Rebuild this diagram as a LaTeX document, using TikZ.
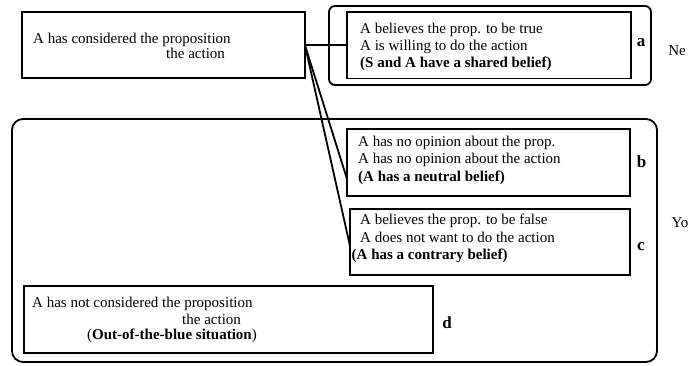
\documentclass[tikz,border=0pt]{standalone}
\usepackage{fontspec}
\setmainfont{Liberation Serif}
\begin{document}
\begin{tikzpicture}[x=1pt,y=-1pt,
  box/.style={draw, line width=1.8pt, rectangle, inner sep=0pt, outer sep=0pt},
  group/.style={draw, line width=1.8pt, rectangle, inner sep=0pt, outer sep=0pt},
  txt/.style={anchor=base west, inner sep=0pt, font=\fontsize{15}{17}\selectfont},
  lab/.style={anchor=base, inner sep=0pt, font=\fontsize{17}{20}\selectfont\bfseries},
  side/.style={anchor=base, inner sep=0pt, font=\fontsize{15}{17}\selectfont},
  conn/.style={line width=1.8pt}]
\useasboundingbox (0,0) rectangle (694,366);
% group frames
\node[group, rounded corners=6pt, minimum width=322pt, minimum height=79pt] (outera) at (490,45.5) {};
\node[group, rounded corners=11pt, minimum width=645pt, minimum height=243pt] (big) at (334.5,240.5) {};
% boxes
\node[box, minimum width=283pt, minimum height=66pt] (left) at (163.5,45.3) {};
\node[box, minimum width=284pt, minimum height=66.5pt] (ba) at (489,45.3) {};
\node[box, minimum width=283pt, minimum height=67pt] (bb) at (488.5,162.5) {};
\node[box, minimum width=280pt, minimum height=66pt] (bc) at (490,242) {};
\node[box, minimum width=409pt, minimum height=67pt] (bd) at (228.5,319.5) {};
% connectors
\coordinate (bEnd) at ([yshift=-16.5pt]bb.west);
\coordinate (cEnd) at ([yshift=-4pt]bc.west);
\draw[conn] (left.east) -- (ba.west);
\draw[conn] (left.east) -- (bEnd);
\draw[conn] (left.east) -- (cEnd);
% texts
\node[txt] (l1) at (33,43.3) {A has considered the proposition};
\node[txt] (l2) at (166,58.8) {the action};
\node[txt] (a1) at (360,34) {A believes the prop. to be true};
\node[txt] (a2) at (360,51) {A is willing to do the action};
\node[txt] (a3) at (360,67.5) {\bfseries (S and A have a shared belief)};
\node[txt] (b1) at (358,146.7) {A has no opinion about the prop.};
\node[txt] (b2) at (358,164) {A has no opinion about the action};
\node[txt] (b3) at (358,181.5) {\bfseries (A has a neutral belief)};
\node[txt] (c1) at (360,225) {A believes the prop. to be false};
\node[txt] (c2) at (360,243) {A does not want to do the action};
\node[txt] (c3) at (351.5,260) {\bfseries (A has a contrary belief)};
\node[txt] (d1) at (32,307.7) {A has not considered the proposition};
\node[txt] (d2) at (182,325) {the action};
\node[txt] (d3) at (87,339.5) {(\textbf{Out-of-the-blue situation})};
% labels
\node[lab] (la) at (641,46.7) {a};
\node[lab] (lb) at (641.5,168) {b};
\node[lab] (lc) at (641,250.5) {c};
\node[lab] (ld) at (447,328) {d};
\node[side] (ne) at (677,56) {Ne};
\node[side] (yo) at (680,228) {Yo};
\end{tikzpicture}
\end{document}
